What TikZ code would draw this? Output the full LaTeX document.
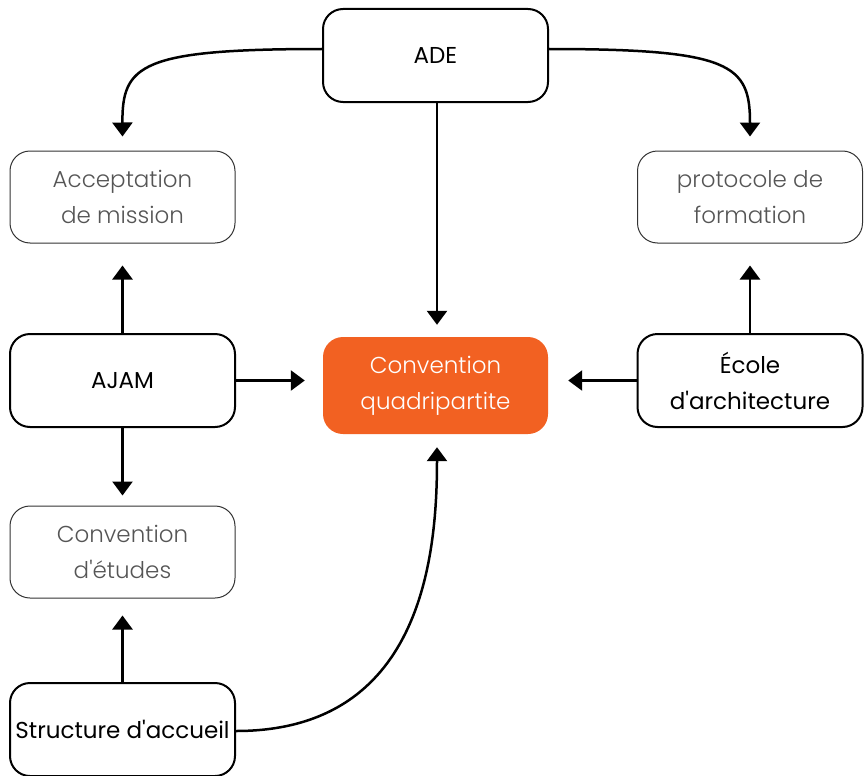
\documentclass[tikz,border=0pt]{standalone}
\usepackage{fontspec}
\setmainfont{Poppins}
\newfontfamily\lightfont{Poppins}[UprightFont=* Light]
\usetikzlibrary{arrows.meta}
\definecolor{orng}{HTML}{F26122}
\definecolor{txtgray}{HTML}{555555}
\newcommand{\apo}{\textquotesingle}
\begin{document}
\begin{tikzpicture}[x=1pt,y=-1pt,
  mainbox/.style={draw=black,line width=2pt,rounded corners=20pt,minimum width=225pt,minimum height=93pt,align=center,font=\fontsize{23}{36}\selectfont,inner sep=0pt},
  graybox/.style={draw=black!80,line width=1pt,rounded corners=20pt,minimum width=225pt,minimum height=92pt,align=center,text=txtgray,font=\lightfont\fontsize{23}{36}\selectfont,inner sep=0pt},
  hubbox/.style={fill=orng,rounded corners=20pt,minimum width=225pt,minimum height=97pt,align=center,text=white,font=\lightfont\fontsize{23}{36}\selectfont,inner sep=0pt},
  arr/.style={line width=2.5pt,-{Triangle[length=14pt,width=20pt]}}]
\useasboundingbox (0,0) rectangle (867,776);
\node[mainbox] (ade) at (435.5,55.5) {ADE};
\node[graybox] (acc) at (122.5,197) {Acceptation\\de mission};
\node[graybox] (proto) at (750,197) {protocole de\\formation};
\node[mainbox] (ajam) at (122.5,380.5) {AJAM};
\node[hubbox] (conv) at (435.5,385.5) {Convention\\quadripartite};
\node[mainbox] (ecole) at (750,380.5) {École\\d\apo architecture};
\node[graybox] (etud) at (122.5,552) {Convention\\d\apo études};
\node[mainbox] (struct) at (122.5,729.5) {Structure d\apo accueil};
% ADE curves
\draw[arr] ([yshift=6.5pt]ade.west) .. controls (140,49) and (122,65) .. ([yshift=14pt]acc.north);
\draw[arr] ([yshift=6.5pt]ade.east) .. controls (732,49) and (750,65) .. ([yshift=14pt]proto.north);
\draw[arr] ([xshift=1.5pt]ade.south) -- ([xshift=1.5pt,yshift=12pt]conv.north);
% AJAM
\draw[arr] (ajam.east) -- ([xshift=-18pt]conv.west |- ajam.east);
\draw[arr] (ajam.north) -- ([yshift=-22pt]acc.south);
\draw[arr] (ajam.south) -- ([yshift=10pt]etud.north);
% Ecole
\draw[arr] (ecole.west) -- ([xshift=20pt]conv.east |- ecole.west);
\draw[arr] (ecole.north) -- ([yshift=-22pt]proto.south);
% Structure
\draw[arr] (struct.north) -- ([yshift=-17pt]etud.south);
\draw[arr] ([yshift=-1.5pt]struct.east) .. controls (420,731) and (437,560) .. ([xshift=1.5pt,yshift=-13pt]conv.south);
\end{tikzpicture}
\end{document}
